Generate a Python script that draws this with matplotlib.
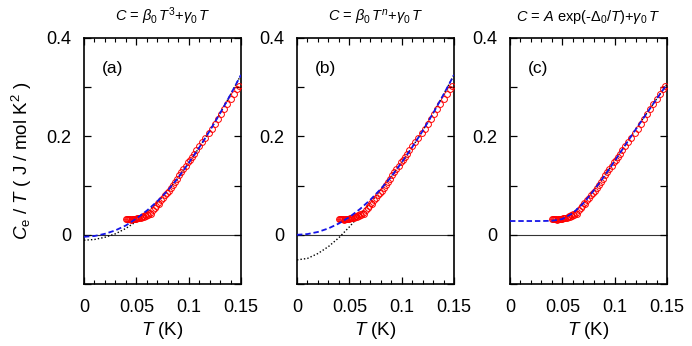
import matplotlib
matplotlib.use("Agg")
import matplotlib.pyplot as plt
from matplotlib.ticker import MultipleLocator

plt.rcParams['font.family'] = ['Liberation Sans', 'DejaVu Sans']
plt.rcParams['mathtext.fontset'] = 'custom'
plt.rcParams['mathtext.rm'] = 'Liberation Sans'
plt.rcParams['mathtext.it'] = 'Liberation Sans:italic'

# measured C_e/T (J/mol K^2) vs T (K), same data in all panels
T_data = [0.040, 0.041, 0.042, 0.043, 0.044, 0.045, 0.046, 0.047, 0.048, 0.049,
          0.050, 0.051, 0.052, 0.053, 0.054, 0.055, 0.056, 0.057, 0.058, 0.059,
          0.060, 0.061, 0.063, 0.064, 0.066, 0.068, 0.069, 0.071, 0.072, 0.074,
          0.075, 0.077, 0.079, 0.081, 0.083, 0.085, 0.087, 0.089, 0.091, 0.093,
          0.095, 0.097, 0.099, 0.101, 0.103, 0.105, 0.107, 0.110, 0.113, 0.116,
          0.119, 0.122, 0.125, 0.128, 0.131, 0.134, 0.137, 0.140, 0.143, 0.146,
          0.148]
C_data = [0.0325, 0.032, 0.0318, 0.032, 0.0315, 0.031, 0.0318, 0.032, 0.0322, 0.032,
          0.033, 0.034, 0.0335, 0.035, 0.0345, 0.036, 0.038, 0.037, 0.040, 0.039,
          0.042, 0.040, 0.045, 0.043, 0.050, 0.055, 0.058, 0.065, 0.063, 0.070,
          0.075, 0.080, 0.085, 0.090, 0.095, 0.102, 0.108, 0.114, 0.121, 0.127,
          0.133, 0.140, 0.147, 0.152, 0.159, 0.165, 0.172, 0.180, 0.189, 0.197,
          0.206, 0.215, 0.225, 0.235, 0.245, 0.255, 0.265, 0.276, 0.287, 0.297,
          0.302]

# fit curves
T_fit = [0.00, 0.01, 0.02, 0.03, 0.04, 0.05, 0.06, 0.07, 0.08, 0.09,
         0.10, 0.11, 0.12, 0.13, 0.14, 0.15]
a_blue = [-0.004, -0.0025, 0.002, 0.009, 0.019, 0.033, 0.049, 0.068, 0.090, 0.116,
          0.146, 0.177, 0.211, 0.247, 0.285, 0.325]
a_black = [-0.011, -0.0095, -0.005, 0.002, 0.013, 0.027, 0.045, 0.066, 0.089, 0.116,
           0.146, 0.177, 0.211, 0.247, 0.285, 0.325]
b_blue = [0.000, 0.0015, 0.0058, 0.013, 0.023, 0.036, 0.052, 0.071, 0.093, 0.118,
          0.147, 0.178, 0.211, 0.247, 0.285, 0.325]
b_black = [-0.051, -0.048, -0.038, -0.024, -0.006, 0.016, 0.040, 0.065, 0.091, 0.118,
           0.147, 0.178, 0.211, 0.247, 0.285, 0.325]
c_blue = [0.028, 0.028, 0.028, 0.028, 0.0285, 0.032, 0.044, 0.064, 0.090, 0.119,
          0.150, 0.182, 0.214, 0.245, 0.276, 0.306]
c_black_T = [0.04, 0.05, 0.06, 0.07, 0.08, 0.09, 0.10, 0.11, 0.12, 0.13, 0.14, 0.15]
c_black = [0.0285, 0.032, 0.044, 0.064, 0.090, 0.119, 0.150, 0.182, 0.214, 0.245,
           0.276, 0.306]

titles = [r'$C$ = $\beta_0\,T^3$+$\gamma_0\,T$',
          r'$C$ = $\beta_0\,T^n$+$\gamma_0\,T$',
          r'$C$ = $A$ exp(-$\Delta_0$/$T$)+$\gamma_0\,T$']
panel_tags = ['(a)', '(b)', '(c)']
blues = [(T_fit, a_blue), (T_fit, b_blue), (T_fit, c_blue)]
blacks = [(T_fit, a_black), (T_fit, b_black), (c_black_T, c_black)]

fig = plt.figure(figsize=(6.92, 3.46), dpi=100)
lefts = [84 / 692, 297 / 692, 510 / 692]

for i in range(3):
    ax = fig.add_axes([lefts[i], 62 / 346, 157 / 692, 246 / 346])
    ax.axhline(0, color='#333333', lw=0.8, zorder=1)
    ax.plot(blacks[i][0], blacks[i][1], ls=(0, (1, 1.5)), color='black', lw=1.0, zorder=2)
    ax.plot(T_data, C_data, 'o', mfc='none', mec='red', mew=0.7, ms=4.2, zorder=3)
    ax.plot(blues[i][0], blues[i][1], ls=(0, (3, 1.6)), color='#1515e8', lw=1.3, zorder=4)

    ax.set_xlim(0, 0.15)
    ax.set_ylim(-0.1, 0.4)
    ax.set_xticks([0, 0.05, 0.1, 0.15])
    ax.set_xticklabels(['0', '0.05', '0.1', '0.15'])
    ax.xaxis.set_minor_locator(MultipleLocator(0.01))
    ax.set_yticks([-0.1, 0, 0.1, 0.2, 0.3, 0.4])
    ax.set_yticklabels(['', '0', '', '0.2', '', '0.4'])
    ax.tick_params(which='both', direction='in', top=True, right=True, labelsize=13)
    ax.tick_params(which='major', length=5, width=0.9)
    ax.tick_params(axis='x', which='major', pad=11)
    ax.tick_params(axis='y', which='major', pad=9)
    ax.tick_params(which='minor', length=3, width=0.8)
    for s in ax.spines.values():
        s.set_linewidth(1.2)

    ax.set_title(titles[i], fontsize=10.5, pad=12)
    ax.text(0.18, 0.878, panel_tags[i], transform=ax.transAxes, fontsize=12.5,
            ha='center', va='center')
    ax.set_xlabel(r'$T$ (K)', fontsize=13.5, labelpad=3)
    if i == 0:
        ax.set_ylabel(r'$C_{\rm e}$ / $T$ ( J / mol K$^2$ )', fontsize=13.5, labelpad=9)

fig.savefig('out.png', dpi=100)
